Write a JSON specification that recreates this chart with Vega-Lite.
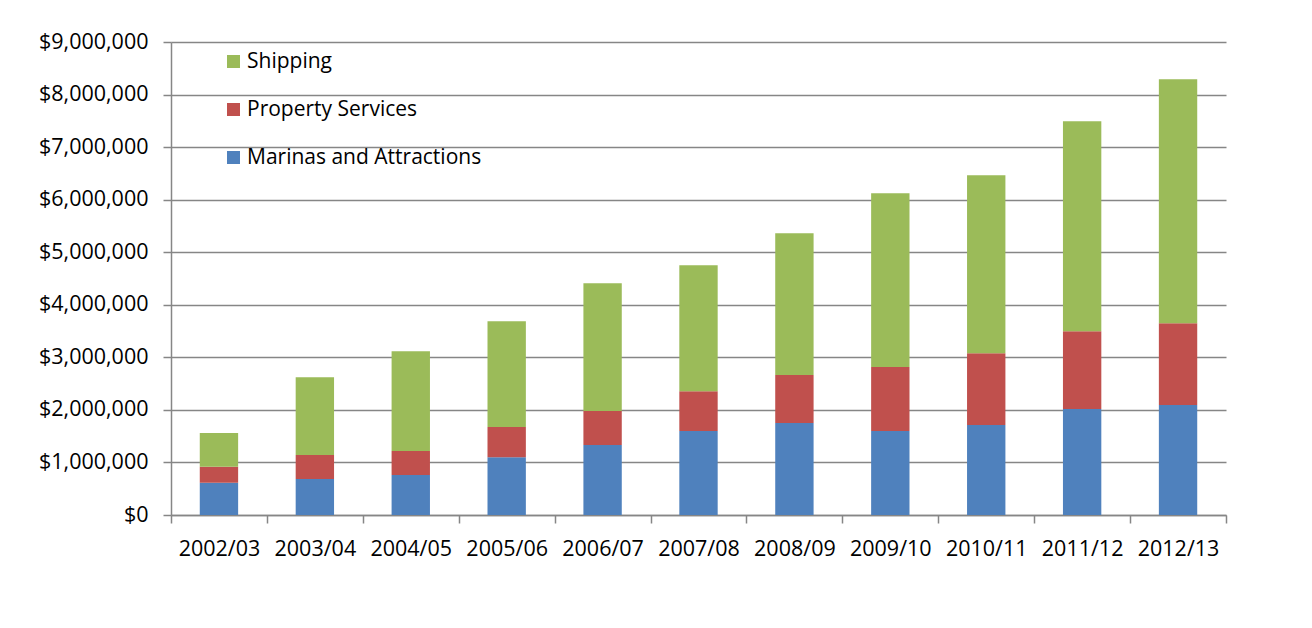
{
  "$schema": "https://vega.github.io/schema/vega-lite/v6.json",
  "autosize": "none",
  "width": 1055,
  "height": 473,
  "padding": {"left": 171, "top": 42, "right": 86, "bottom": 113},
  "background": "white",
  "data": {
    "values": [
      {"year": "2002/03", "series": "Marinas and Attractions", "value": 614000},
      {"year": "2003/04", "series": "Marinas and Attractions", "value": 684000},
      {"year": "2004/05", "series": "Marinas and Attractions", "value": 760000},
      {"year": "2005/06", "series": "Marinas and Attractions", "value": 1100000},
      {"year": "2006/07", "series": "Marinas and Attractions", "value": 1330000},
      {"year": "2007/08", "series": "Marinas and Attractions", "value": 1597000},
      {"year": "2008/09", "series": "Marinas and Attractions", "value": 1749000},
      {"year": "2009/10", "series": "Marinas and Attractions", "value": 1597000},
      {"year": "2010/11", "series": "Marinas and Attractions", "value": 1711000},
      {"year": "2011/12", "series": "Marinas and Attractions", "value": 2015000},
      {"year": "2012/13", "series": "Marinas and Attractions", "value": 2091000},
      {"year": "2002/03", "series": "Property Services", "value": 304000},
      {"year": "2003/04", "series": "Property Services", "value": 456000},
      {"year": "2004/05", "series": "Property Services", "value": 457000},
      {"year": "2005/06", "series": "Property Services", "value": 573000},
      {"year": "2006/07", "series": "Property Services", "value": 647000},
      {"year": "2007/08", "series": "Property Services", "value": 760000},
      {"year": "2008/09", "series": "Property Services", "value": 913000},
      {"year": "2009/10", "series": "Property Services", "value": 1217000},
      {"year": "2010/11", "series": "Property Services", "value": 1369000},
      {"year": "2011/12", "series": "Property Services", "value": 1483000},
      {"year": "2012/13", "series": "Property Services", "value": 1559000},
      {"year": "2002/03", "series": "Shipping", "value": 641000},
      {"year": "2003/04", "series": "Shipping", "value": 1480000},
      {"year": "2004/05", "series": "Shipping", "value": 1901000},
      {"year": "2005/06", "series": "Shipping", "value": 2015000},
      {"year": "2006/07", "series": "Shipping", "value": 2433000},
      {"year": "2007/08", "series": "Shipping", "value": 2396000},
      {"year": "2008/09", "series": "Shipping", "value": 2699000},
      {"year": "2009/10", "series": "Shipping", "value": 3308000},
      {"year": "2010/11", "series": "Shipping", "value": 3384000},
      {"year": "2011/12", "series": "Shipping", "value": 3992000},
      {"year": "2012/13", "series": "Shipping", "value": 4639000}
    ]
  },
  "mark": {"type": "bar", "width": {"band": 0.4}},
  "encoding": {
    "x": {
      "field": "year",
      "type": "nominal",
      "title": null,
      "scale": {"paddingInner": 0, "paddingOuter": 0},
      "axis": {
        "labelAngle": 0,
        "labelFontSize": 21.5,
        "labelPadding": 15,
        "tickBand": "extent",
        "tickSize": 8,
        "grid": false
      }
    },
    "y": {
      "field": "value",
      "type": "quantitative",
      "aggregate": "sum",
      "stack": "zero",
      "title": null,
      "scale": {"domain": [0, 9000000], "nice": false},
      "axis": {
        "values": [0, 1000000, 2000000, 3000000, 4000000, 5000000, 6000000, 7000000, 8000000, 9000000],
        "format": "$,.0f",
        "labelFontSize": 21.5,
        "labelPadding": 15,
        "tickSize": 8,
        "grid": true
      }
    },
    "color": {
      "field": "series",
      "type": "nominal",
      "sort": "descending",
      "scale": {
        "domain": ["Shipping", "Property Services", "Marinas and Attractions"],
        "range": ["#9BBB59", "#C0504D", "#4F81BD"]
      },
      "legend": {
        "title": null,
        "orient": "none",
        "legendX": 52,
        "legendY": 9,
        "padding": 0,
        "symbolType": "square",
        "symbolSize": 169,
        "symbolStrokeWidth": 0,
        "symbolOpacity": 1,
        "labelFontSize": 21,
        "labelOffset": 3,
        "labelLimit": 400,
        "rowPadding": 26,
        "labelColor": "#000000"
      }
    },
    "order": {"field": "series", "sort": "ascending"}
  },
  "config": {
    "font": "Open Sans",
    "view": {"stroke": null},
    "axis": {
      "domainColor": "#868686",
      "domainWidth": 1.5,
      "tickColor": "#868686",
      "tickWidth": 1.5,
      "gridColor": "#868686",
      "gridWidth": 1.5,
      "gridOpacity": 1,
      "labelColor": "#000000",
      "labelFont": "Open Sans"
    },
    "legend": {"labelFont": "Open Sans"}
  }
}
